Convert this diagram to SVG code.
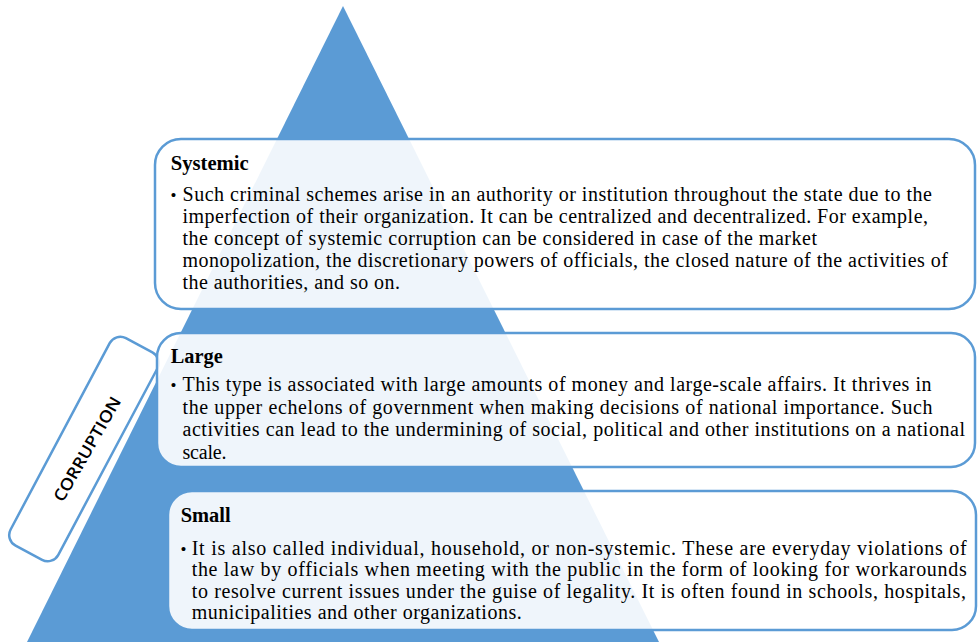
<svg xmlns="http://www.w3.org/2000/svg" width="978" height="642" viewBox="0 0 978 642">
  <style>
    .tri { fill: #5B9BD5; }
    .box { fill: #FFFFFF; fill-opacity: 0.9; stroke: #5B9BD5; stroke-width: 2.5; }
    .tag { fill: #FFFFFF; stroke: #5B9BD5; stroke-width: 2.5; }
    .title { font-family: "Liberation Serif", "Times New Roman", serif; font-size: 20px; font-weight: bold; fill: #000; }
    .body { font-family: "Liberation Serif", "Times New Roman", serif; font-size: 20px; fill: #000; }
    .dot { font-family: "Liberation Serif", "Times New Roman", serif; font-size: 17px; fill: #000; }
    .tagtext { font-family: "Open Sans", "Liberation Sans", sans-serif; font-size: 16.5px; font-weight: 600; fill: #000; }
  </style>

  <!-- pyramid backdrop -->
  <polygon class="tri" points="343,6 27,642 659,642"/>

  <g id="connectors"></g>

  <!-- rotated side label -->
  <g id="corruption">
    <rect class="tag" x="-117.5" y="-27" width="235" height="54" rx="12" transform="translate(84,449) rotate(-62)"/>
    <text class="tagtext" x="0" y="6" text-anchor="middle" textLength="118" lengthAdjust="spacingAndGlyphs" transform="translate(87,449) rotate(-60)">CORRUPTION</text>
  </g>

  <!-- top tier -->
  <g id="systemic">
    <rect class="box" x="155" y="139" width="820" height="170" rx="26"/>
    <text class="title" x="170.7" y="170" textLength="78" lengthAdjust="spacingAndGlyphs">Systemic</text>
    <text class="dot" x="170.5" y="201">•</text>
    <text class="body" x="182.5" y="201" textLength="749.5">Such criminal schemes arise in an authority or institution throughout the state due to the</text>
    <text class="body" x="182.5" y="223" textLength="745.5">imperfection of their organization. It can be centralized and decentralized. For example,</text>
    <text class="body" x="182.5" y="245" textLength="634.5">the concept of systemic corruption can be considered in case of the market</text>
    <text class="body" x="182.5" y="267" textLength="765.5">monopolization, the discretionary powers of officials, the closed nature of the activities of</text>
    <text class="body" x="182.5" y="289" textLength="217.5">the authorities, and so on.</text>
  </g>

  <!-- middle tier -->
  <g id="large">
    <rect class="box" x="157" y="333" width="818" height="134" rx="24"/>
    <text class="title" x="170.7" y="363" textLength="52" lengthAdjust="spacingAndGlyphs">Large</text>
    <text class="dot" x="170.5" y="391">•</text>
    <text class="body" x="182.5" y="391" textLength="749">This type is associated with large amounts of money and large-scale affairs. It thrives in</text>
    <text class="body" x="182.5" y="413.5" textLength="750">the upper echelons of government when making decisions of national importance. Such</text>
    <text class="body" x="182.5" y="436" textLength="782.5">activities can lead to the undermining of social, political and other institutions on a national</text>
    <text class="body" x="182.5" y="458.5" textLength="44">scale.</text>
  </g>

  <!-- bottom tier -->
  <g id="small">
    <rect class="box" x="168" y="491" width="808" height="139" rx="24"/>
    <text class="title" x="180.7" y="522" textLength="50" lengthAdjust="spacingAndGlyphs">Small</text>
    <text class="dot" x="180.5" y="554.5">•</text>
    <text class="body" x="191.7" y="554.5" textLength="775">It is also called individual, household, or non-systemic. These are everyday violations of</text>
    <text class="body" x="191.7" y="576" textLength="775">the law by officials when meeting with the public in the form of looking for workarounds</text>
    <text class="body" x="191.7" y="597.5" textLength="774.3">to resolve current issues under the guise of legality. It is often found in schools, hospitals,</text>
    <text class="body" x="191.7" y="619" textLength="330">municipalities and other organizations.</text>
  </g>
</svg>
